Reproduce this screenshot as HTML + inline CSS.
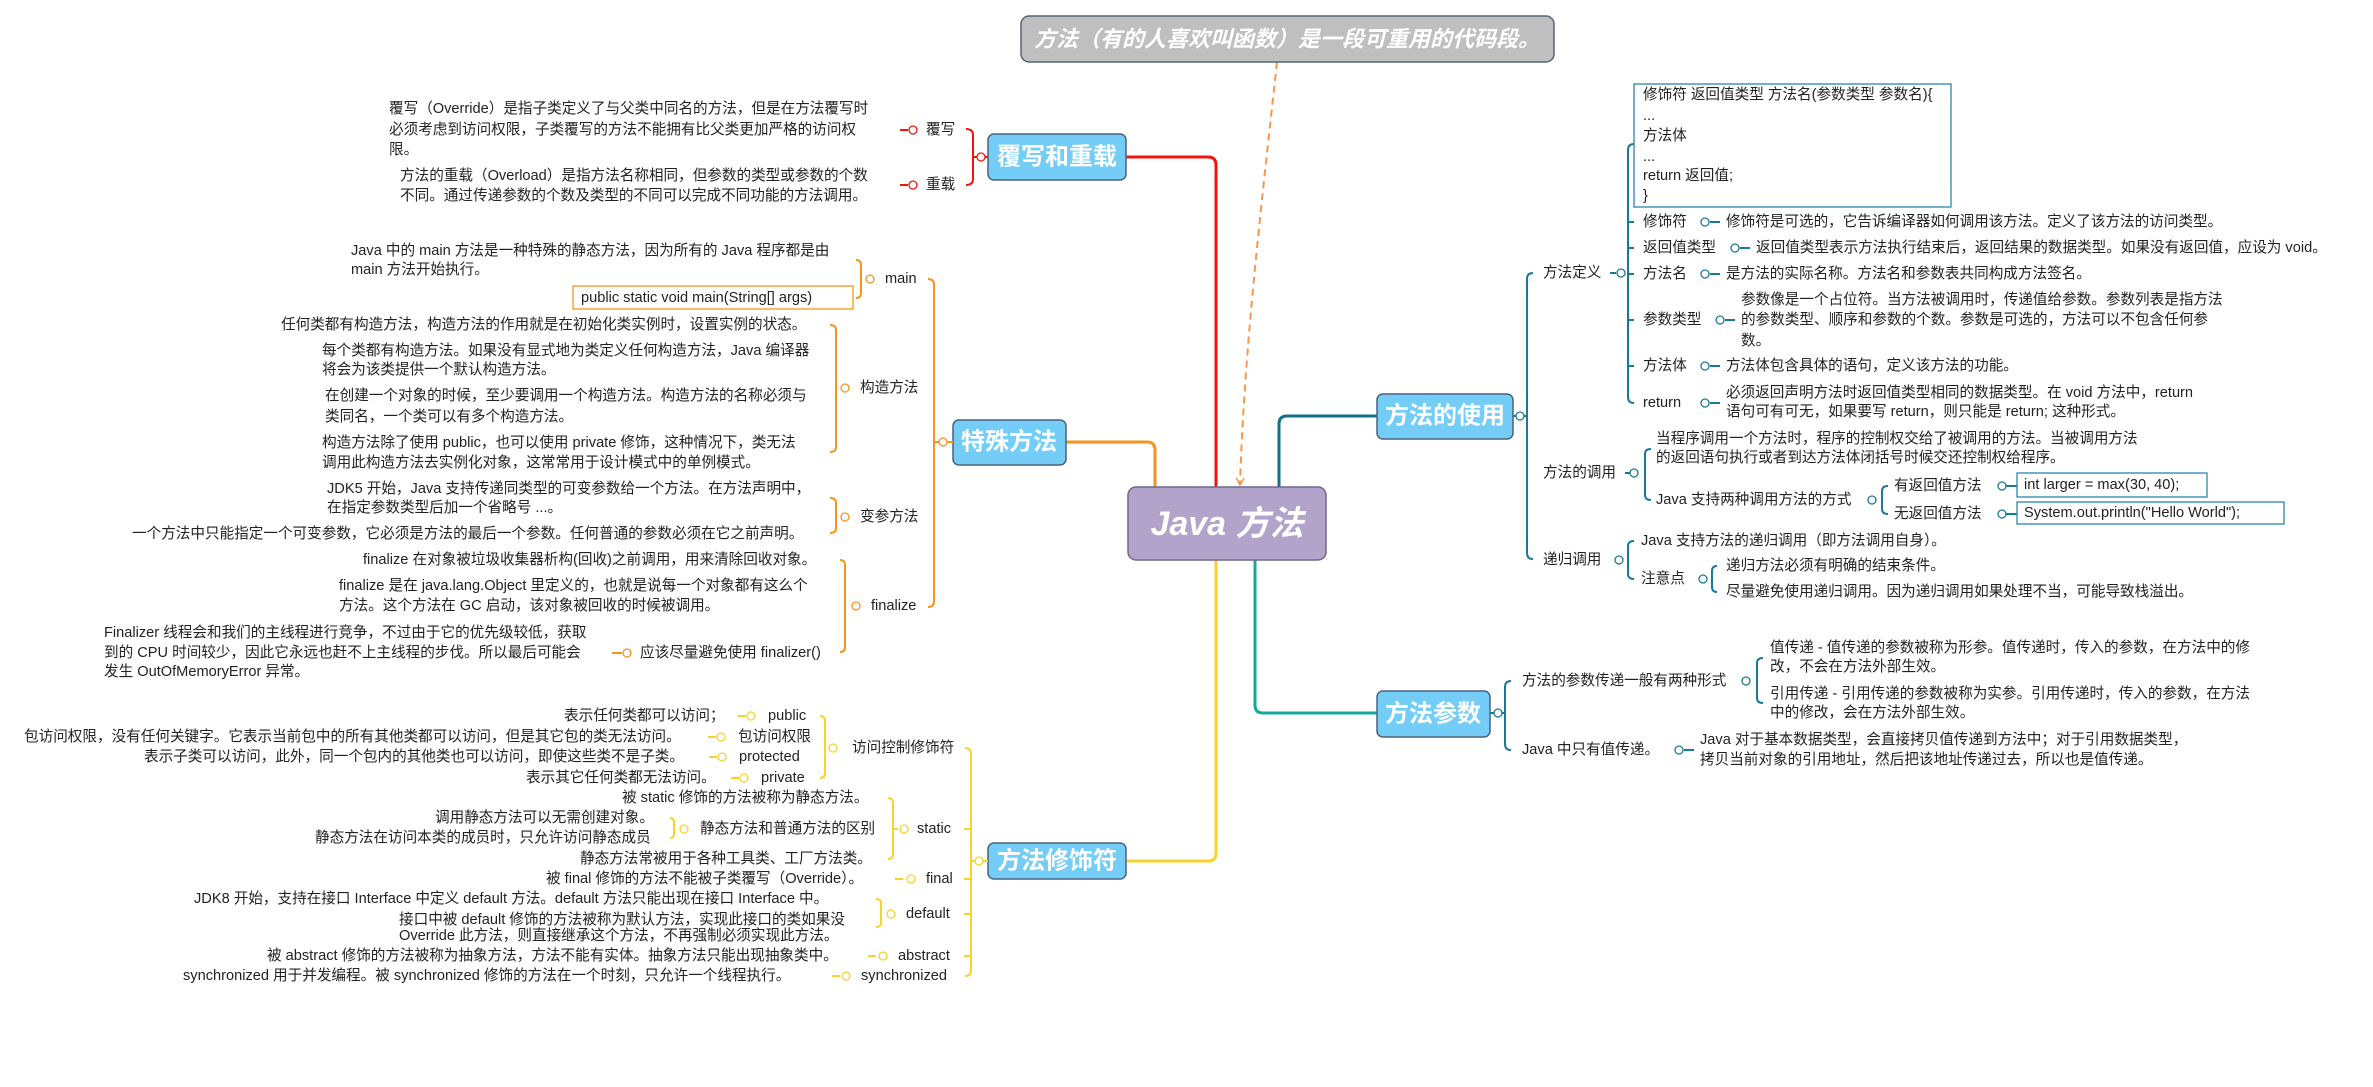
<!DOCTYPE html>
<html><head><meta charset="utf-8"><style>
html,body{margin:0;padding:0;background:#fff;}
svg{display:block;}
text{font-family:"Liberation Sans","Noto Sans CJK SC",sans-serif;font-size:14.6px;fill:#222;dominant-baseline:central;}
.b{font-size:24px;font-weight:bold;fill:#fff;text-anchor:middle;}
</style></head><body>
<svg width="2373" height="1087" viewBox="0 0 2373 1087" xmlns="http://www.w3.org/2000/svg">
<defs><marker id="ar" markerWidth="10" markerHeight="10" refX="8" refY="5" orient="auto" markerUnits="userSpaceOnUse"><path d="M1 1 L8 5 L1 9" fill="none" stroke="#f7974a" stroke-width="1.5"/></marker></defs>

<path d="M1216 487 L1216 165 Q1216 157 1208 157 L1126 157" fill="none" stroke="#f2140c" stroke-width="3"/>
<path d="M1066 442 L1147 442 Q1155 442 1155 450 L1155 487" fill="none" stroke="#f7941d" stroke-width="3"/>
<path d="M1216 560 L1216 853 Q1216 861 1208 861 L1126 861" fill="none" stroke="#f8d32a" stroke-width="3"/>
<path d="M1279 487 L1279 424 Q1279 416 1287 416 L1377 416" fill="none" stroke="#12708a" stroke-width="3"/>
<path d="M1255 560 L1255 705 Q1255 713 1263 713 L1377 713" fill="none" stroke="#17a897" stroke-width="3"/>
<path d="M1277 62 C1262 200 1244 350 1240 485" fill="none" stroke="#f7974a" stroke-width="2" stroke-dasharray="7,5" marker-end="url(#ar)"/>

<rect x="1021" y="16" width="533" height="46" rx="8" fill="#bfbfbf" stroke="#55657a" stroke-width="1.5"/>
<text x="1287" y="39" style="font-size:22px;font-weight:bold;font-style:italic;fill:#fff;text-anchor:middle">方法（有的人喜欢叫函数）是一段可重用的代码段。</text>

<rect x="1128" y="487" width="198" height="73" rx="8" fill="#b1a3c9" stroke="#6e6790" stroke-width="1.5"/>
<text x="1227" y="524" style="font-size:34px;font-weight:bold;font-style:italic;fill:#fff;text-anchor:middle">Java 方法</text>

<rect x="988" y="134" width="138" height="46" rx="6" fill="#74cdf7" stroke="#4a6280" stroke-width="1.5"/>
<text class="b" x="1057" y="157">覆写和重载</text>
<rect x="953" y="420" width="113" height="45" rx="6" fill="#74cdf7" stroke="#4a6280" stroke-width="1.5"/>
<text class="b" x="1009" y="442">特殊方法</text>
<rect x="988" y="843" width="138" height="36" rx="6" fill="#74cdf7" stroke="#4a6280" stroke-width="1.5"/>
<text class="b" x="1057" y="861">方法修饰符</text>
<rect x="1377" y="394" width="136" height="45" rx="6" fill="#74cdf7" stroke="#4a6280" stroke-width="1.5"/>
<text class="b" x="1445" y="416">方法的使用</text>
<rect x="1377" y="691" width="113" height="46" rx="6" fill="#74cdf7" stroke="#4a6280" stroke-width="1.5"/>
<text class="b" x="1433" y="714">方法参数</text>

<g fill="none" stroke="#f2140c" stroke-width="2">
<path d="M966 129 Q973 129 973 135 L973 179 Q973 185 966 185"/>
<line x1="973" y1="157" x2="988" y2="157"/>
<line x1="900" y1="130" x2="908" y2="130"/><line x1="900" y1="185" x2="908" y2="185"/>
</g>
<g fill="#fff" stroke="#f2140c" stroke-width="1.3"><circle cx="981" cy="157" r="4"/><circle cx="913" cy="130" r="4"/><circle cx="913" cy="185" r="4"/></g>
<text x="926" y="130">覆写</text><text x="926" y="185">重载</text>
<text x="389" y="109">覆写（Override）是指子类定义了与父类中同名的方法，但是在方法覆写时</text>
<text x="389" y="130">必须考虑到访问权限，子类覆写的方法不能拥有比父类更加严格的访问权</text>
<text x="389" y="150">限。</text>
<text x="400" y="176">方法的重载（Overload）是指方法名称相同，但参数的类型或参数的个数</text>
<text x="400" y="196">不同。通过传递参数的个数及类型的不同可以完成不同功能的方法调用。</text>

<g fill="none" stroke="#f7941d" stroke-width="2">
<path d="M928 279 Q934 279 934 285 L934 601 Q934 607 928 607"/>
<line x1="934" y1="442" x2="953" y2="442"/>
<path d="M856 260 Q861 260 861 265 L861 293 Q861 298 856 298"/>
<path d="M830 325 Q836 325 836 330 L836 447 Q836 452 830 452"/>
<path d="M830 498 Q836 498 836 503 L836 528 Q836 533 830 533"/>
<path d="M840 560 Q845 560 845 565 L845 647 Q845 652 840 652"/>
<line x1="612" y1="653" x2="622" y2="653"/>
</g>
<g fill="#fff" stroke="#f7941d" stroke-width="1.3"><circle cx="943" cy="442" r="4"/><circle cx="870" cy="279" r="4"/><circle cx="845" cy="388" r="4"/><circle cx="845" cy="517" r="4"/><circle cx="856" cy="606" r="4"/><circle cx="627" cy="653" r="4"/></g>
<text x="885" y="279">main</text>
<text x="860" y="388">构造方法</text>
<text x="860" y="517">变参方法</text>
<text x="871" y="606">finalize</text>
<text x="351" y="251">Java 中的 main 方法是一种特殊的静态方法，因为所有的 Java 程序都是由</text>
<text x="351" y="270">main 方法开始执行。</text>
<rect x="573" y="286" width="280" height="23" fill="#fff" stroke="#f7941d" stroke-width="1.3"/>
<text x="581" y="298">public static void main(String[] args)</text>
<text x="281" y="325">任何类都有构造方法，构造方法的作用就是在初始化类实例时，设置实例的状态。</text>
<text x="322" y="351">每个类都有构造方法。如果没有显式地为类定义任何构造方法，Java 编译器</text>
<text x="322" y="370">将会为该类提供一个默认构造方法。</text>
<text x="325" y="396">在创建一个对象的时候，至少要调用一个构造方法。构造方法的名称必须与</text>
<text x="325" y="417">类同名，一个类可以有多个构造方法。</text>
<text x="322" y="443">构造方法除了使用 public，也可以使用 private 修饰，这种情况下，类无法</text>
<text x="322" y="463">调用此构造方法去实例化对象，这常常用于设计模式中的单例模式。</text>
<text x="327" y="489">JDK5 开始，Java 支持传递同类型的可变参数给一个方法。在方法声明中，</text>
<text x="327" y="508">在指定参数类型后加一个省略号 ...。</text>
<text x="132" y="534">一个方法中只能指定一个可变参数，它必须是方法的最后一个参数。任何普通的参数必须在它之前声明。</text>
<text x="363" y="560">finalize 在对象被垃圾收集器析构(回收)之前调用，用来清除回收对象。</text>
<text x="339" y="586">finalize 是在 java.lang.Object 里定义的，也就是说每一个对象都有这么个</text>
<text x="339" y="606">方法。这个方法在 GC 启动，该对象被回收的时候被调用。</text>
<text x="640" y="653">应该尽量避免使用 finalizer()</text>
<text x="104" y="633">Finalizer 线程会和我们的主线程进行竞争，不过由于它的优先级较低，获取</text>
<text x="104" y="653">到的 CPU 时间较少，因此它永远也赶不上主线程的步伐。所以最后可能会</text>
<text x="104" y="672">发生 OutOfMemoryError 异常。</text>

<g fill="none" stroke="#f8d32a" stroke-width="2">
<path d="M965 748 Q971 748 971 754 L971 970 Q971 976 965 976"/>
<line x1="971" y1="861" x2="988" y2="861"/>
<path d="M964 829 L971 829 M964 879 L971 879 M964 914 L971 914 M964 956 L971 956"/>
<path d="M820 716 Q825 716 825 721 L825 773 Q825 778 820 778"/>
<path d="M888 798 Q893 798 893 803 L893 854 Q893 859 888 859"/>
<path d="M670 818 Q674 818 674 822 L674 834 Q674 838 670 838"/>
<path d="M876 899 Q881 899 881 903 L881 923 Q881 927 876 927"/>
<path d="M738 716 L746 716 M708 737 L716 737 M709 757 L717 757 M731 778 L739 778 M895 879 L903 879 M868 956 L876 956 M832 976 L840 976 M893 829 L898 829"/>
</g>
<g fill="#fff" stroke="#f8d32a" stroke-width="1.3"><circle cx="979" cy="861" r="4"/><circle cx="833" cy="748" r="4"/><circle cx="904" cy="829" r="4"/><circle cx="684" cy="829" r="4"/><circle cx="891" cy="914" r="4"/><circle cx="751" cy="716" r="4"/><circle cx="721" cy="737" r="4"/><circle cx="722" cy="757" r="4"/><circle cx="744" cy="778" r="4"/><circle cx="911" cy="879" r="4"/><circle cx="883" cy="956" r="4"/><circle cx="846" cy="976" r="4"/></g>
<text x="852" y="748">访问控制修饰符</text>
<text x="917" y="829">static</text>
<text x="926" y="879">final</text>
<text x="906" y="914">default</text>
<text x="898" y="956">abstract</text>
<text x="861" y="976">synchronized</text>
<text x="768" y="716">public</text>
<text x="738" y="737">包访问权限</text>
<text x="739" y="757">protected</text>
<text x="761" y="778">private</text>
<text x="564" y="716">表示任何类都可以访问；</text>
<text x="24" y="737">包访问权限，没有任何关键字。它表示当前包中的所有其他类都可以访问，但是其它包的类无法访问。</text>
<text x="144" y="757">表示子类可以访问，此外，同一个包内的其他类也可以访问，即使这些类不是子类。</text>
<text x="526" y="778">表示其它任何类都无法访问。</text>
<text x="622" y="798">被 static 修饰的方法被称为静态方法。</text>
<text x="700" y="829">静态方法和普通方法的区别</text>
<text x="435" y="818">调用静态方法可以无需创建对象。</text>
<text x="315" y="838">静态方法在访问本类的成员时，只允许访问静态成员</text>
<text x="580" y="859">静态方法常被用于各种工具类、工厂方法类。</text>
<text x="546" y="879">被 final 修饰的方法不能被子类覆写（Override）。</text>
<text x="194" y="899">JDK8 开始，支持在接口 Interface 中定义 default 方法。default 方法只能出现在接口 Interface 中。</text>
<text x="399" y="920">接口中被 default 修饰的方法被称为默认方法，实现此接口的类如果没</text>
<text x="399" y="936">Override 此方法，则直接继承这个方法，不再强制必须实现此方法。</text>
<text x="267" y="956">被 abstract 修饰的方法被称为抽象方法，方法不能有实体。抽象方法只能出现抽象类中。</text>
<text x="183" y="976">synchronized 用于并发编程。被 synchronized 修饰的方法在一个时刻，只允许一个线程执行。</text>

<g fill="none" stroke="#1a7a94" stroke-width="2">
<line x1="1513" y1="416" x2="1527" y2="416"/>
<path d="M1533 273 Q1527 273 1527 279 L1527 553 Q1527 559 1533 559"/>
<path d="M1634 144 Q1628 144 1628 150 L1628 397 Q1628 403 1634 403"/>
<path d="M1628 222 L1634 222 M1628 248 L1634 248 M1628 274 L1634 274 M1628 320 L1634 320 M1628 366 L1634 366"/>
<line x1="1610" y1="273" x2="1616" y2="273"/>
<path d="M1651 449 Q1645 449 1645 454 L1645 495 Q1645 500 1651 500"/>
<line x1="1625" y1="473" x2="1630" y2="473"/>
<path d="M1888 486 Q1882 486 1882 491 L1882 509 Q1882 514 1888 514"/>
<path d="M1634 541 Q1628 541 1628 546 L1628 574 Q1628 579 1634 579"/>
<path d="M1717 566 Q1712 566 1712 571 L1712 587 Q1712 592 1717 592"/>
<path d="M1710 222 L1720 222 M1740 248 L1750 248 M1710 274 L1720 274 M1725 320 L1735 320 M1710 366 L1720 366 M1710 403 L1720 403 M2006 486 L2017 486 M2006 514 L2017 514"/>
</g>
<g fill="#fff" stroke="#1a7a94" stroke-width="1.3"><circle cx="1520" cy="416" r="4"/><circle cx="1621" cy="273" r="4"/><circle cx="1634" cy="473" r="4"/><circle cx="1872" cy="500" r="4"/><circle cx="1619" cy="560" r="4"/><circle cx="1703" cy="579" r="4"/>
<circle cx="1705" cy="222" r="4"/><circle cx="1735" cy="248" r="4"/><circle cx="1705" cy="274" r="4"/><circle cx="1720" cy="320" r="4"/><circle cx="1705" cy="366" r="4"/><circle cx="1705" cy="403" r="4"/><circle cx="2002" cy="486" r="4"/><circle cx="2002" cy="514" r="4"/></g>
<text x="1543" y="273">方法定义</text>
<text x="1543" y="473">方法的调用</text>
<text x="1543" y="560">递归调用</text>
<rect x="1634" y="84" width="317" height="123" fill="#fff" stroke="#2a86ad" stroke-width="1.3"/>
<text x="1643" y="95">修饰符 返回值类型 方法名(参数类型 参数名){</text>
<text x="1643" y="116">...</text>
<text x="1643" y="136">方法体</text>
<text x="1643" y="157">...</text>
<text x="1643" y="176">return 返回值;</text>
<text x="1643" y="196">}</text>
<text x="1643" y="222">修饰符</text>
<text x="1726" y="222">修饰符是可选的，它告诉编译器如何调用该方法。定义了该方法的访问类型。</text>
<text x="1643" y="248">返回值类型</text>
<text x="1756" y="248">返回值类型表示方法执行结束后，返回结果的数据类型。如果没有返回值，应设为 void。</text>
<text x="1643" y="274">方法名</text>
<text x="1726" y="274">是方法的实际名称。方法名和参数表共同构成方法签名。</text>
<text x="1643" y="320">参数类型</text>
<text x="1741" y="300">参数像是一个占位符。当方法被调用时，传递值给参数。参数列表是指方法</text>
<text x="1741" y="320">的参数类型、顺序和参数的个数。参数是可选的，方法可以不包含任何参</text>
<text x="1741" y="341">数。</text>
<text x="1643" y="366">方法体</text>
<text x="1726" y="366">方法体包含具体的语句，定义该方法的功能。</text>
<text x="1643" y="403">return</text>
<text x="1726" y="393">必须返回声明方法时返回值类型相同的数据类型。在 void 方法中，return</text>
<text x="1726" y="412">语句可有可无，如果要写 return，则只能是 return; 这种形式。</text>
<text x="1656" y="439">当程序调用一个方法时，程序的控制权交给了被调用的方法。当被调用方法</text>
<text x="1656" y="458">的返回语句执行或者到达方法体闭括号时候交还控制权给程序。</text>
<text x="1656" y="500">Java 支持两种调用方法的方式</text>
<text x="1894" y="486">有返回值方法</text>
<text x="1894" y="514">无返回值方法</text>
<rect x="2017" y="473" width="190" height="24" fill="#fff" stroke="#2a86ad" stroke-width="1.3"/>
<text x="2024" y="485">int larger = max(30, 40);</text>
<rect x="2017" y="502" width="267" height="22" fill="#fff" stroke="#2a86ad" stroke-width="1.3"/>
<text x="2024" y="513">System.out.println("Hello World");</text>
<text x="1641" y="541">Java 支持方法的递归调用（即方法调用自身）。</text>
<text x="1641" y="579">注意点</text>
<text x="1726" y="566">递归方法必须有明确的结束条件。</text>
<text x="1726" y="592">尽量避免使用递归调用。因为递归调用如果处理不当，可能导致栈溢出。</text>

<g fill="none" stroke="#1a7a94" stroke-width="2">
<line x1="1490" y1="713" x2="1505" y2="713"/>
<path d="M1511 681 Q1505 681 1505 687 L1505 744 Q1505 750 1511 750"/>
<path d="M1763 658 Q1757 658 1757 663 L1757 698 Q1757 703 1763 703"/>
<line x1="1684" y1="750" x2="1694" y2="750"/>
</g>
<g fill="#fff" stroke="#1a7a94" stroke-width="1.3"><circle cx="1498" cy="713" r="4"/><circle cx="1746" cy="681" r="4"/><circle cx="1679" cy="750" r="4"/></g>
<text x="1522" y="681">方法的参数传递一般有两种形式</text>
<text x="1522" y="750">Java 中只有值传递。</text>
<text x="1770" y="648">值传递 - 值传递的参数被称为形参。值传递时，传入的参数，在方法中的修</text>
<text x="1770" y="667">改，不会在方法外部生效。</text>
<text x="1770" y="694">引用传递 - 引用传递的参数被称为实参。引用传递时，传入的参数，在方法</text>
<text x="1770" y="713">中的修改，会在方法外部生效。</text>
<text x="1700" y="740">Java 对于基本数据类型，会直接拷贝值传递到方法中；对于引用数据类型，</text>
<text x="1700" y="760">拷贝当前对象的引用地址，然后把该地址传递过去，所以也是值传递。</text>
</svg>
</body></html>
